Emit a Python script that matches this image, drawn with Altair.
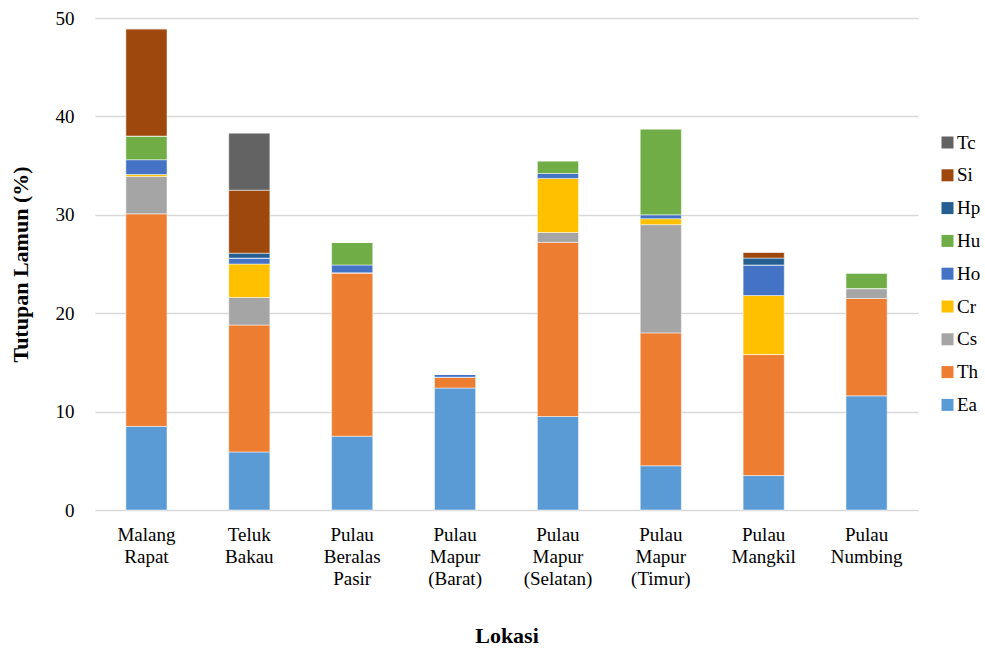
import altair as alt
import pandas as pd

locations = ["Malang|Rapat", "Teluk|Bakau", "Pulau|Beralas|Pasir", "Pulau|Mapur|(Barat)",
             "Pulau|Mapur|(Selatan)", "Pulau|Mapur|(Timur)", "Pulau|Mangkil", "Pulau|Numbing"]
species = ["Ea", "Th", "Cs", "Cr", "Ho", "Hu", "Hp", "Si", "Tc"]
colors = ["#5B9BD5", "#ED7D31", "#A5A5A5", "#FFC000", "#4472C4", "#70AD47", "#255E91", "#9E480E", "#636363"]

Ea = [8.5, 5.9, 7.5, 12.4, 9.5, 4.5, 3.5, 11.6]
Th = [21.6, 12.9, 16.6, 1.1, 17.7, 13.5, 12.3, 9.9]
Cs = [3.8, 2.8, 0.0, 0.0, 1.0, 11.0, 0.0, 1.0]
Cr = [0.2, 3.4, 0.0, 0.0, 5.5, 0.6, 6.0, 0.0]
Ho = [1.5, 0.6, 0.8, 0.3, 0.5, 0.4, 3.1, 0.0]
Hu = [2.4, 0.0, 2.3, 0.0, 1.3, 8.75, 0.0, 1.6]
Hp = [0.0, 0.5, 0.0, 0.0, 0.0, 0.0, 0.7, 0.0]
Si = [10.9, 6.4, 0.0, 0.0, 0.0, 0.0, 0.6, 0.0]
Tc = [0.0, 5.8, 0.0, 0.0, 0.0, 0.0, 0.0, 0.0]

series = [Ea, Th, Cs, Cr, Ho, Hu, Hp, Si, Tc]
rows = []
for si, (name, vals) in enumerate(zip(species, series)):
    for loc, v in zip(locations, vals):
        rows.append({"Lokasi": loc, "Jenis": name, "Nilai": v, "urut": si})
df = pd.DataFrame(rows)

font = "Liberation Serif"

chart = alt.Chart(df).mark_bar(stroke="white", strokeWidth=0.5).encode(
    x=alt.X("Lokasi:N", sort=locations,
            scale=alt.Scale(paddingInner=0.6, paddingOuter=0.3),
            axis=alt.Axis(title="Lokasi", labelAngle=0, labelExpr="split(datum.label, '|')",
                          labelLineHeight=22, labelFontSize=19, labelFont=font, labelColor="#000000",
                          labelPadding=15, ticks=False, domain=False,
                          titleFont=font, titleFontSize=22, titleFontWeight="bold", titleColor="#000000",
                          titleY=125, titleBaseline="middle")),
    y=alt.Y("Nilai:Q", stack="zero",
            scale=alt.Scale(domain=[0, 50]),
            axis=alt.Axis(title="Tutupan Lamun (%)", values=[0, 10, 20, 30, 40, 50],
                          labelFontSize=19, labelFont=font, labelColor="#000000", labelPadding=21,
                          ticks=False, domain=False, gridColor="#d9d9d9", gridWidth=1.3,
                          titleFont=font, titleFontSize=22, titleFontWeight="bold", titleColor="#000000",
                          titleX=-75, titleY=246, titleAngle=270, titleAlign="center", titleBaseline="middle")),
    color=alt.Color("Jenis:N",
                    scale=alt.Scale(domain=species[::-1], range=colors[::-1]),
                    legend=alt.Legend(title=None, orient="none", legendX=843, legendY=115,
                                      symbolType="square", symbolSize=144, symbolStrokeWidth=0,
                                      labelFont=font, labelFontSize=19, labelColor="#000000",
                                      rowPadding=12.8, labelOffset=0)),
    order=alt.Order("urut:Q", sort="ascending"),
).properties(
    width=823, height=492,
    autosize=alt.AutoSizeParams(type="none"),
    padding={"left": 95, "top": 18, "right": 67, "bottom": 138},
).configure_view(stroke=None)

chart.save("out.html", embed_options={"renderer": "svg", "actions": False})
